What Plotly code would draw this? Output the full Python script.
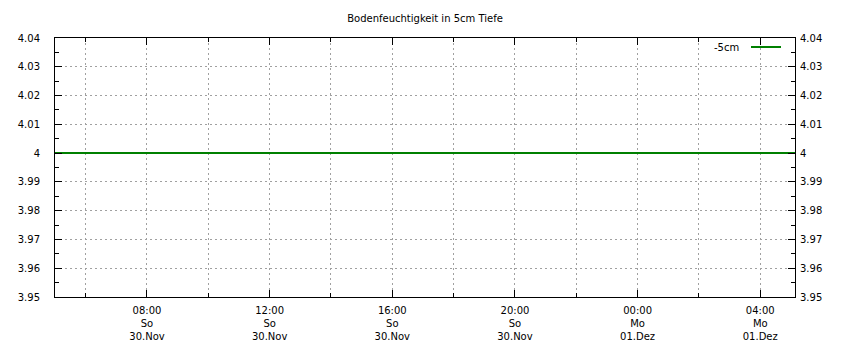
import plotly.graph_objects as go

# ---- data ----
times = [
    "2025-11-30 05:00", "2025-11-30 06:00", "2025-11-30 07:00", "2025-11-30 08:00",
    "2025-11-30 09:00", "2025-11-30 10:00", "2025-11-30 11:00", "2025-11-30 12:00",
    "2025-11-30 13:00", "2025-11-30 14:00", "2025-11-30 15:00", "2025-11-30 16:00",
    "2025-11-30 17:00", "2025-11-30 18:00", "2025-11-30 19:00", "2025-11-30 20:00",
    "2025-11-30 21:00", "2025-11-30 22:00", "2025-11-30 23:00", "2025-12-01 00:00",
    "2025-12-01 01:00", "2025-12-01 02:00", "2025-12-01 03:00", "2025-12-01 04:00",
    "2025-12-01 05:00", "2025-12-01 05:08",
]
moisture_5cm = [
    4.0, 4.0, 4.0, 4.0, 4.0, 4.0, 4.0, 4.0, 4.0, 4.0, 4.0, 4.0, 4.0,
    4.0, 4.0, 4.0, 4.0, 4.0, 4.0, 4.0, 4.0, 4.0, 4.0, 4.0, 4.0, 4.0,
]
series_name = "-5cm"
title_text = "Bodenfeuchtigkeit in 5cm Tiefe"

x_tickvals = ["2025-11-30 08:00", "2025-11-30 12:00", "2025-11-30 16:00",
              "2025-11-30 20:00", "2025-12-01 00:00", "2025-12-01 04:00"]
x_ticktext = ["08:00<br>So<br>30.Nov", "12:00<br>So<br>30.Nov", "16:00<br>So<br>30.Nov",
              "20:00<br>So<br>30.Nov", "00:00<br>Mo<br>01.Dez", "04:00<br>Mo<br>01.Dez"]
x_minor_vals = ["2025-11-30 06:00", "2025-11-30 10:00", "2025-11-30 14:00",
                "2025-11-30 18:00", "2025-11-30 22:00", "2025-12-01 02:00"]
x_range = ["2025-11-30 05:00", "2025-12-01 05:08"]

y_tickvals = [3.95, 3.96, 3.97, 3.98, 3.99, 4.0, 4.01, 4.02, 4.03, 4.04]
y_ticktext = ["3.95", "3.96", "3.97", "3.98", "3.99", "4", "4.01", "4.02", "4.03", "4.04"]
y_minor_vals = [3.955, 3.965, 3.975, 3.985, 3.995, 4.005, 4.015, 4.025, 4.035]
y_range = [3.95, 4.04]

line_color = "#008000"
grid_color = "#a0a0a0"
grid_dash = "2px,3px"
font = dict(family="DejaVu Sans", size=10, color="black")

fig = go.Figure()
fig.add_trace(go.Scatter(x=times, y=moisture_5cm, mode="lines", name=series_name,
                         line=dict(color=line_color, width=2), showlegend=False))
fig.add_trace(go.Scatter(x=times, y=moisture_5cm, mode="lines", yaxis="y2",
                         line=dict(color="rgba(0,0,0,0)", width=0), showlegend=False,
                         hoverinfo="skip"))

fig.update_layout(
    width=850, height=350,
    margin=dict(l=55, r=55, t=38, b=53, autoexpand=False),
    paper_bgcolor="white", plot_bgcolor="white",
    font=font,
    title=dict(text=title_text, x=0.5, xanchor="center", y=1 - 18 / 350, yanchor="middle",
               font=dict(family="DejaVu Sans", size=10, color="black")),
    xaxis=dict(
        type="date", range=x_range, automargin=False,
        tickmode="array", tickvals=x_tickvals, ticktext=x_ticktext,
        ticks="inside", ticklen=7, tickcolor="black", tickwidth=1,
        showline=True, linecolor="black", linewidth=1, mirror="ticks",
        showgrid=True, gridcolor=grid_color, griddash=grid_dash, gridwidth=1,
        minor=dict(tickmode="array", tickvals=x_minor_vals, ticks="inside", ticklen=4,
                   tickcolor="black", showgrid=True, gridcolor=grid_color, griddash=grid_dash),
        ticklabelstandoff=4,
        zeroline=False, fixedrange=True,
    ),
    yaxis=dict(
        range=y_range, automargin=False,
        tickmode="array", tickvals=y_tickvals, ticktext=y_ticktext,
        ticks="inside", ticklen=7, tickcolor="black", tickwidth=1,
        showline=True, linecolor="black", linewidth=1, mirror=True,
        showgrid=True, gridcolor=grid_color, griddash=grid_dash, gridwidth=1,
        minor=dict(tickmode="array", tickvals=y_minor_vals, ticks="inside", ticklen=4,
                   tickcolor="black", showgrid=False),
        ticklabelstandoff=12,
        zeroline=False, fixedrange=True,
    ),
    yaxis2=dict(
        range=y_range, overlaying="y", side="right", automargin=False,
        tickmode="array", tickvals=y_tickvals, ticktext=y_ticktext,
        ticks="inside", ticklen=7, tickcolor="black", tickwidth=1,
        showline=False, showgrid=False, zeroline=False,
        minor=dict(tickmode="array", tickvals=y_minor_vals, ticks="inside", ticklen=4,
                   tickcolor="black", showgrid=False),
        ticklabelstandoff=4,
        fixedrange=True,
    ),
)

# legend (text followed by line sample, as in the reference)
fig.add_annotation(xref="paper", yref="paper", x=(741 - 55) / 740, y=(297 - 47) / 259,
                   text=series_name, showarrow=False, xanchor="right", yanchor="middle",
                   font=font)
fig.add_shape(type="line", xref="paper", yref="paper",
              x0=(751 - 55) / 740, x1=(781 - 55) / 740,
              y0=(297 - 47) / 259, y1=(297 - 47) / 259,
              line=dict(color=line_color, width=2))

fig.write_html("out.html")
